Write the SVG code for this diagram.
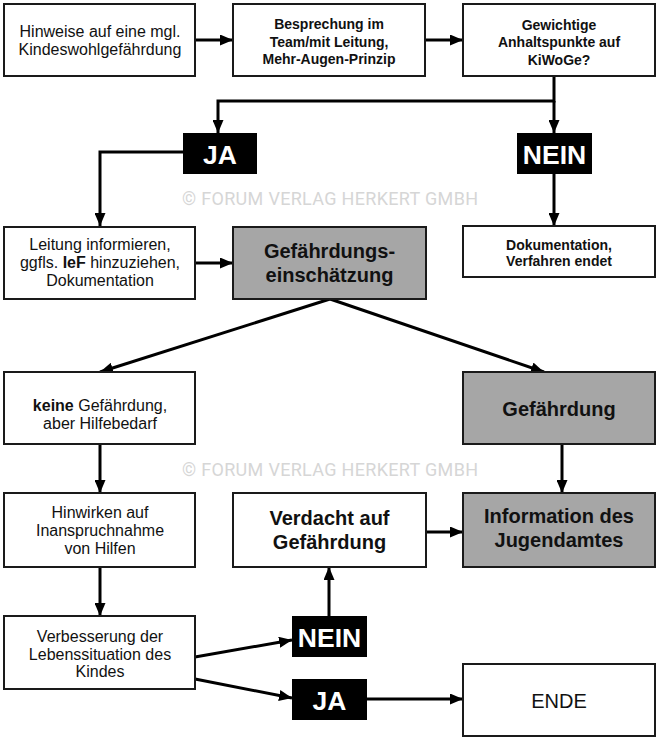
<svg xmlns="http://www.w3.org/2000/svg" width="660" height="742" viewBox="0 0 660 742">
<defs>
<marker id="ah" markerUnits="userSpaceOnUse" markerWidth="13" markerHeight="11" refX="13" refY="5.5" orient="auto">
<path d="M0,0 L13,5.5 L0,11 z" fill="#000"/>
</marker>
<style>
.box{fill:#fff;stroke:#1a1a1a;stroke-width:2}
.gray{fill:#a6a6a6;stroke:#1a1a1a;stroke-width:2}
.lab{fill:#000}
.t{font-family:"Liberation Sans",Arial,sans-serif;font-size:16px;fill:#111;text-anchor:middle}
.tb{font-family:"Liberation Sans",Arial,sans-serif;font-size:14px;font-weight:bold;fill:#111;text-anchor:middle}
.tl{font-family:"Liberation Sans",Arial,sans-serif;font-size:20px;font-weight:bold;fill:#111;text-anchor:middle}
.tw{font-family:"Liberation Sans",Arial,sans-serif;font-size:26.5px;font-weight:bold;fill:#fff;text-anchor:middle}
.wm{font-family:Roboto,"Liberation Sans",sans-serif;font-size:18px;fill:#d6d6d6;text-anchor:middle}
.c{fill:none;stroke:#000;stroke-width:3}
</style>
</defs>
<rect width="660" height="742" fill="#fff"/>
<text class="wm" x="330" y="205" textLength="296">© FORUM VERLAG HERKERT GMBH</text>
<text class="wm" x="330" y="476" textLength="296">© FORUM VERLAG HERKERT GMBH</text>
<g id="connectors">
<path class="c" d="M195,40 H233" marker-end="url(#ah)"/>
<path class="c" d="M425,40 H463" marker-end="url(#ah)"/>
<path class="c" d="M554,76 V101 H218 V133" marker-end="url(#ah)"/>
<path class="c" d="M554,101 V133" marker-end="url(#ah)"/>
<path class="c" d="M183,152 H100 V226" marker-end="url(#ah)"/>
<path class="c" d="M554,174 V226" marker-end="url(#ah)"/>
<path class="c" d="M195,263 H233" marker-end="url(#ah)"/>
<path class="c" d="M330,299 L100,372" marker-end="url(#ah)"/>
<path class="c" d="M330,299 L544,372" marker-end="url(#ah)"/>
<path class="c" d="M562,444 V493" marker-end="url(#ah)"/>
<path class="c" d="M100,444 V493" marker-end="url(#ah)"/>
<path class="c" d="M100,567 V616" marker-end="url(#ah)"/>
<path class="c" d="M426,532 H463" marker-end="url(#ah)"/>
<path class="c" d="M329,616 V567" marker-end="url(#ah)"/>
<path class="c" d="M195,657 L292,640" marker-end="url(#ah)"/>
<path class="c" d="M195,679 L292,698" marker-end="url(#ah)"/>
<path class="c" d="M367,699 H463" marker-end="url(#ah)"/>
</g>
<g id="n1"><rect class="box" x="4" y="4" width="191" height="72"/>
<text class="t" x="100" y="37">Hinweise auf eine mgl.</text><text class="t" x="100" y="55">Kindeswohlgefährdung</text></g>
<g id="n2"><rect class="box" x="233" y="4" width="192" height="72"/>
<text class="tb" x="329" y="29">Besprechung im</text><text class="tb" x="329" y="46.5">Team/mit Leitung,</text><text class="tb" x="329" y="64">Mehr-Augen-Prinzip</text></g>
<g id="n3"><rect class="box" x="463" y="4" width="192" height="72"/>
<text class="tb" x="559" y="29.5">Gewichtige</text><text class="tb" x="559" y="47">Anhaltspunkte auf</text><text class="tb" x="559" y="64.5">KiWoGe?</text></g>
<g id="ja1"><rect class="lab" x="183" y="133" width="74" height="41"/><text class="tw" x="220" y="163.5">JA</text></g>
<g id="nein1"><rect class="lab" x="517" y="133" width="75" height="41"/><text class="tw" x="554.5" y="163.5">NEIN</text></g>
<g id="n4"><rect class="box" x="4" y="227" width="191" height="72"/>
<text class="t" x="100" y="250">Leitung informieren,</text><text class="t" x="100" y="268">ggfls. <tspan font-weight="bold">IeF</tspan> hinzuziehen,</text><text class="t" x="100" y="286">Dokumentation</text></g>
<g id="n5"><rect class="gray" x="233" y="227" width="193" height="72"/>
<text class="tl" x="329.5" y="258">Gefährdungs-</text><text class="tl" x="329.5" y="282">einschätzung</text></g>
<g id="n6"><rect class="box" x="463" y="226" width="192" height="51"/>
<text class="tb" x="559" y="249.5">Dokumentation,</text><text class="tb" x="559" y="266">Verfahren endet</text></g>
<g id="n7"><rect class="box" x="4" y="372" width="191" height="72"/>
<text class="t" x="100" y="411"><tspan font-weight="bold">keine</tspan> Gefährdung,</text><text class="t" x="100" y="429">aber Hilfebedarf</text></g>
<g id="n8"><rect class="gray" x="463" y="372" width="192" height="72"/>
<text class="tl" x="559" y="415.5">Gefährdung</text></g>
<g id="n9"><rect class="box" x="4" y="493" width="191" height="74"/>
<text class="t" x="100" y="518">Hinwirken auf</text><text class="t" x="100" y="536">Inanspruchnahme</text><text class="t" x="100" y="553.5">von Hilfen</text></g>
<g id="n10"><rect class="box" x="233" y="493" width="193" height="74"/>
<text class="tl" x="329.5" y="525">Verdacht auf</text><text class="tl" x="329.5" y="549">Gefährdung</text></g>
<g id="n11"><rect class="gray" x="463" y="493" width="192" height="74"/>
<text class="tl" x="559" y="523">Information des</text><text class="tl" x="559" y="547">Jugendamtes</text></g>
<g id="n12"><rect class="box" x="4" y="616" width="191" height="73"/>
<text class="t" x="100" y="642">Verbesserung der</text><text class="t" x="100" y="659.5">Lebenssituation des</text><text class="t" x="100" y="677">Kindes</text></g>
<g id="nein2"><rect class="lab" x="292" y="616" width="75" height="41"/><text class="tw" x="329.5" y="646.5">NEIN</text></g>
<g id="ja2"><rect class="lab" x="292" y="679" width="75" height="41"/><text class="tw" x="329.5" y="709.5">JA</text></g>
<g id="n13"><rect class="box" x="463" y="664" width="192" height="72"/>
<text class="t" x="559" y="708" style="font-size:20px">ENDE</text></g>
</svg>
